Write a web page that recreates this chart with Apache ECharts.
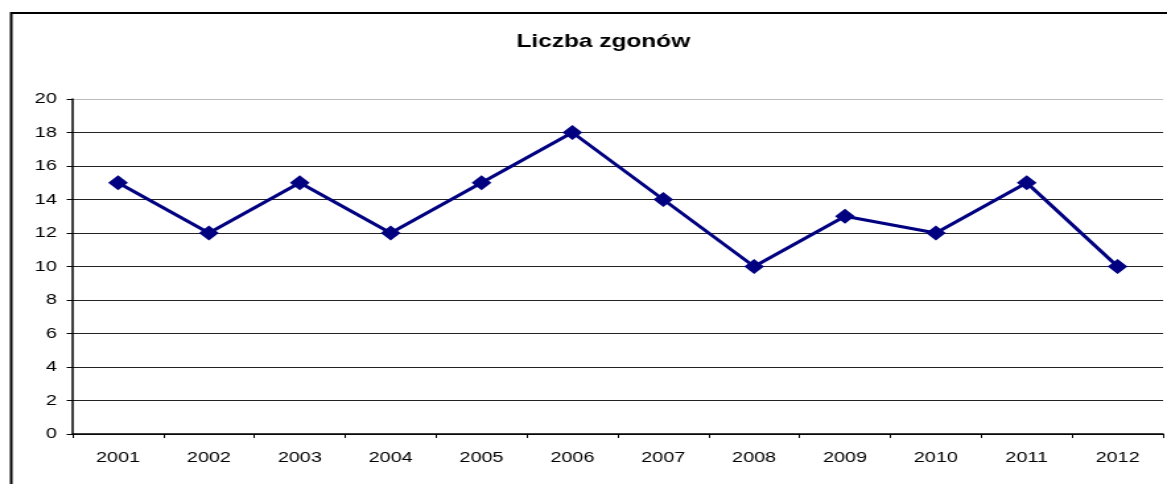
<!DOCTYPE html>
<html>
<head>
<meta charset="utf-8">
<script src="https://cdn.jsdelivr.net/npm/echarts@6/dist/echarts.min.js"></script>
<style>
  html, body { margin: 0; padding: 0; background: #fff; overflow: hidden; }
  /* oryginalny wykres jest rozciągnięty w poziomie (~1.32x) */
  #chart { width: 884px; height: 484px; transform: scaleX(1.3201); transform-origin: 0 0; }
</style>
</head>
<body>
<div id="chart"></div>
<script>
// lata i liczba zgonów
var years = ['2001', '2002', '2003', '2004', '2005', '2006', '2007', '2008', '2009', '2010', '2011', '2012'];
var deaths = [15, 12, 15, 12, 15, 18, 14, 10, 13, 12, 15, 10];

var myChart = echarts.init(document.getElementById('chart'));

// siatka: ostatnia linia (20) jasnoszara
var gridColors = [];
for (var i = 0; i < 10; i++) gridColors.push('#222');
gridColors.push('#bbb');

var option = {
    animation: false,
    backgroundColor: '#fff',
    title: {
        text: 'Liczba zgonów',
        left: 452,
        top: 27,
        textAlign: 'center',
        textStyle: {
            fontFamily: 'Liberation Sans, Arial',
            fontSize: 18.5,
            fontWeight: 'bold',
            color: '#000'
        }
    },
    graphic: [{
        type: 'rect',
        shape: { x: 8.5, y: 13, width: 1000, height: 520 },
        style: { fill: 'none', stroke: '#000', lineWidth: 2 },
        silent: true
    }],
    grid: {
        left: 55,
        right: 3,
        top: 99,
        bottom: 50
    },
    xAxis: {
        type: 'category',
        data: years,
        boundaryGap: true,
        axisLine: { lineStyle: { color: '#000', width: 1.5 } },
        axisTick: { show: true, inside: false, length: 4, lineStyle: { color: '#000' } },
        axisLabel: {
            margin: 16,
            fontFamily: 'Liberation Sans, Arial',
            fontSize: 15,
            color: '#000'
        }
    },
    yAxis: {
        type: 'value',
        min: 0,
        max: 20,
        interval: 2,
        axisLine: { show: true, lineStyle: { color: '#000', width: 1.5 } },
        axisTick: { show: true, length: 4.5, lineStyle: { color: '#000' } },
        axisLabel: {
            margin: 12,
            fontFamily: 'Liberation Sans, Arial',
            fontSize: 15,
            color: '#000'
        },
        splitLine: {
            show: true,
            lineStyle: { color: gridColors, width: 1.2 }
        }
    },
    series: [{
        name: 'Liczba zgonów',
        type: 'line',
        data: deaths,
        symbol: 'diamond',
        symbolSize: 15,
        lineStyle: { color: '#000080', width: 3 },
        itemStyle: { color: '#000080' }
    }]
};

myChart.setOption(option);
</script>
</body>
</html>
